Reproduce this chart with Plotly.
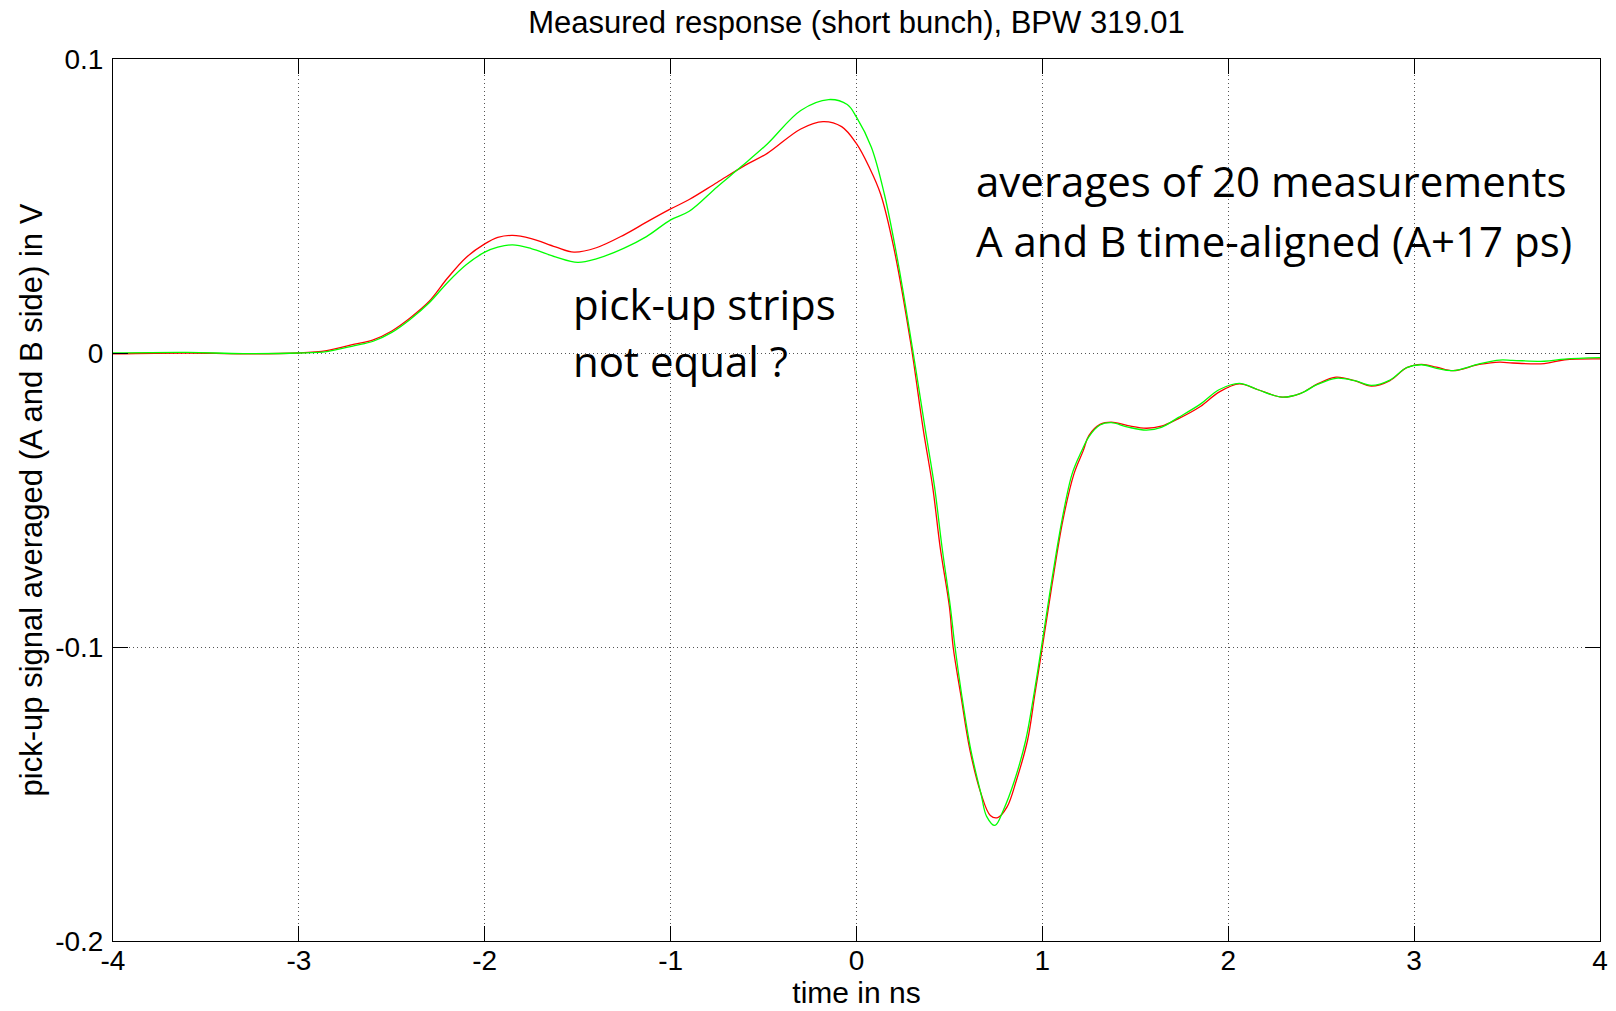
import plotly.graph_objects as go

# time axis (ns) and the two averaged pick-up signals (V)
t_red = [-4.0, -3.6, -3.3, -3.0, -2.85, -2.7, -2.6, -2.5, -2.4, -2.3, -2.2, -2.1, -2.0, -1.93, -1.85,
         -1.75, -1.62, -1.52, -1.4, -1.25, -1.13, -1.0, -0.9, -0.75, -0.6, -0.48, -0.3, -0.18, -0.08,
         0.0, 0.07, 0.13, 0.2, 0.29, 0.36, 0.41, 0.45, 0.5, 0.52, 0.56, 0.61, 0.67, 0.72, 0.76, 0.81,
         0.86, 0.92, 0.96, 1.0, 1.05, 1.11, 1.17, 1.22, 1.25, 1.31, 1.37, 1.46, 1.56, 1.64, 1.73, 1.85,
         1.95, 2.06, 2.16, 2.29, 2.39, 2.48, 2.58, 2.68, 2.77, 2.87, 2.96, 3.04, 3.12, 3.21, 3.35, 3.46,
         3.53, 3.7, 3.81, 4.0]
v_red = [-0.0003, 0.0, -0.0003, 0.0, 0.0008, 0.003, 0.0045, 0.0075, 0.012, 0.0175, 0.0255, 0.0325,
         0.0371, 0.0393, 0.0400, 0.0389, 0.0361, 0.0343, 0.0358, 0.0402, 0.0445, 0.0490, 0.0522, 0.0580,
         0.0638, 0.0679, 0.0762, 0.0787, 0.0770, 0.0712, 0.063, 0.054, 0.036, 0.004, -0.0264, -0.0456,
         -0.066, -0.0864, -0.1, -0.1159, -0.135, -0.1499, -0.1573, -0.158, -0.1544, -0.1454, -0.1318,
         -0.1159, -0.1, -0.0796, -0.057, -0.0411, -0.0332, -0.0281, -0.0243, -0.0235, -0.0247, -0.0256,
         -0.0249, -0.0224, -0.0182, -0.0133, -0.0105, -0.0125, -0.0150, -0.0137, -0.0105, -0.0082,
         -0.0094, -0.0113, -0.0094, -0.0050, -0.0039, -0.0048, -0.0060, -0.0039, -0.0031, -0.0034,
         -0.0036, -0.0023, -0.0020]

t_green = [-4.0, -3.6, -3.3, -3.0, -2.85, -2.7, -2.6, -2.5, -2.4, -2.3, -2.2, -2.1, -2.0, -1.93, -1.85,
           -1.75, -1.62, -1.5, -1.4, -1.25, -1.13, -1.0, -0.9, -0.75, -0.62, -0.48, -0.3, -0.15, -0.05,
           0.0, 0.08, 0.15, 0.22, 0.3, 0.37, 0.42, 0.46, 0.505, 0.53, 0.565, 0.615, 0.67, 0.7, 0.745,
           0.79, 0.85, 0.91, 0.955, 0.995, 1.045, 1.105, 1.16, 1.21, 1.25, 1.31, 1.37, 1.46, 1.56, 1.64,
           1.73, 1.85, 1.95, 2.06, 2.16, 2.29, 2.39, 2.48, 2.58, 2.68, 2.77, 2.87, 2.96, 3.04, 3.12, 3.21,
           3.35, 3.46, 3.53, 3.7, 3.81, 4.0]
v_green = [0.0, 0.0002, -0.0002, 0.0, 0.0005, 0.0025, 0.004, 0.007, 0.0115, 0.017, 0.024, 0.0300,
           0.0343, 0.0360, 0.0368, 0.0355, 0.0327, 0.0308, 0.0320, 0.0357, 0.0396, 0.0453, 0.0482, 0.0565,
           0.0634, 0.0711, 0.0825, 0.0862, 0.0845, 0.0802, 0.070, 0.054, 0.032, 0.002, -0.026, -0.0456,
           -0.066, -0.0864, -0.1, -0.1159, -0.135, -0.150, -0.1576, -0.1607, -0.1555, -0.1454, -0.1318,
           -0.1159, -0.1, -0.0796, -0.057, -0.0411, -0.0335, -0.0285, -0.0245, -0.0237, -0.0252, -0.0262,
           -0.0253, -0.0220, -0.0174, -0.0125, -0.0103, -0.0125, -0.0150, -0.0137, -0.0107, -0.0086,
           -0.0094, -0.0110, -0.0092, -0.0050, -0.0040, -0.0052, -0.0060, -0.0037, -0.0024, -0.0025,
           -0.0028, -0.0021, -0.0016]

x_ticks = [-4, -3, -2, -1, 0, 1, 2, 3, 4]
x_labels = ['-4', '-3', '-2', '-1', '0', '1', '2', '3', '4']
y_ticks = [-0.2, -0.1, 0, 0.1]
y_labels = ['-0.2', '-0.1', '0', '0.1']

# text boxes on the plot, one entry per line: (text, x in ns, y in V)
notes = [
    ('averages of 20 measurements', 0.633, 0.0587),
    ('A and B time-aligned (A+17 ps)', 0.633, 0.0384),
    ('pick-up strips', -1.535, 0.0167),
    ('not equal ?', -1.535, -0.0026),
]

MATLAB_FONT = "Liberation Sans, Arial, sans-serif"
NOTE_FONT = "Open Sans, sans-serif"

fig = go.Figure()
fig.add_trace(go.Scatter(x=t_red, y=v_red, mode='lines', line=dict(color='#ff0000', width=1.3, shape='spline')))
fig.add_trace(go.Scatter(x=t_green, y=v_green, mode='lines', line=dict(color='#00ff00', width=1.3, shape='spline')))

axis_common = dict(
    showline=True, linecolor='black', linewidth=1, mirror='ticks',
    ticks='inside', ticklen=15, tickcolor='black', tickwidth=1,
    showgrid=True, gridcolor='#555555', gridwidth=1, griddash='1px,3px',
    zeroline=False, automargin=False,
    tickfont=dict(family=MATLAB_FONT, size=28, color='black'),
)

fig.update_xaxes(range=[-4, 4], tickvals=x_ticks, ticktext=x_labels, ticklabelstandoff=-6,
                 title=dict(text='time in ns', font=dict(family=MATLAB_FONT, size=30, color='black'), standoff=0),
                 **axis_common)
fig.update_yaxes(range=[-0.2, 0.1], tickvals=y_ticks, ticktext=y_labels, ticklabelstandoff=3,
                 title=dict(text='pick-up signal averaged (A and B side) in V',
                            font=dict(family=MATLAB_FONT, size=31, color='black'), standoff=3),
                 **axis_common)

for text, nx, ny in notes:
    fig.add_annotation(x=nx, y=ny, xref='x', yref='y', xanchor='left', yanchor='middle',
                       showarrow=False, text=text,
                       font=dict(family=NOTE_FONT, size=42, color='black'))

fig.update_layout(
    width=1616, height=1011,
    margin=dict(l=113, r=16, t=59, b=70),
    paper_bgcolor='white', plot_bgcolor='white',
    showlegend=False,
    title=dict(text='Measured response (short bunch), BPW 319.01', x=0.53, xanchor='center',
               y=0.978, yanchor='middle', font=dict(family=MATLAB_FONT, size=31, color='black')),
)

# drop the browser's default 8px body margin so the figure fills the window exactly
fig.write_html("out.html", config={'displayModeBar': False},
               post_script="document.body.style.margin='0';")
